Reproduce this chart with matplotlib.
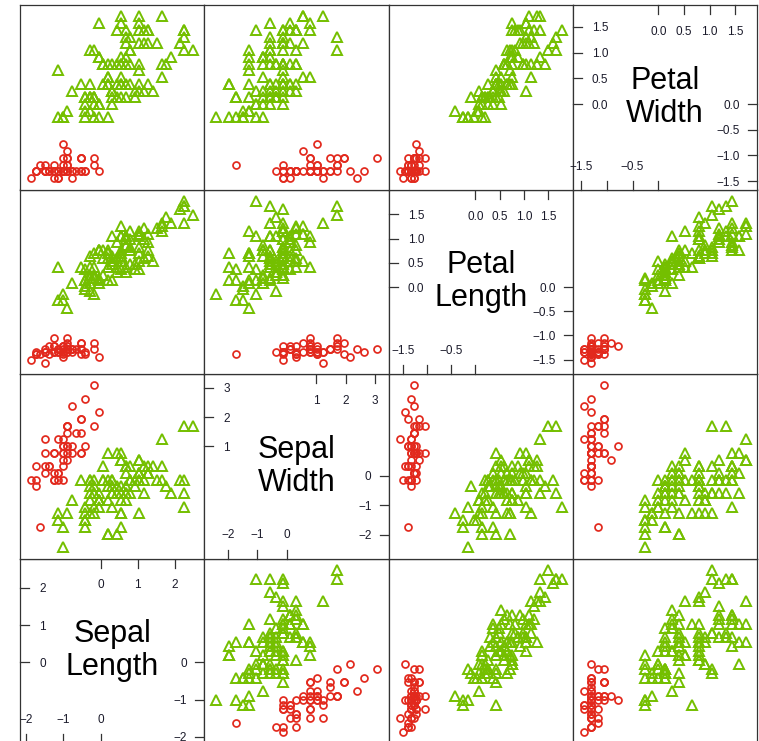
"""
Scatterplot matrix of the (standardised) iris measurements, setosa vs. the rest
"""
import math
import numpy as np
import matplotlib.pyplot as plt

plt.rcParams['font.family'] = ['Liberation Sans', 'DejaVu Sans']

# iris measurements, rows 1-50 setosa, 51-100 versicolor, 101-150 virginica
sepal_length = [
    5.1, 4.9, 4.7, 4.6, 5.0, 5.4, 4.6, 5.0, 4.4, 4.9, 5.4, 4.8, 4.8, 4.3, 5.8, 5.7, 5.4, 5.1, 5.7, 5.1,
    5.4, 5.1, 4.6, 5.1, 4.8, 5.0, 5.0, 5.2, 5.2, 4.7, 4.8, 5.4, 5.2, 5.5, 4.9, 5.0, 5.5, 4.9, 4.4, 5.1,
    5.0, 4.5, 4.4, 5.0, 5.1, 4.8, 5.1, 4.6, 5.3, 5.0,
    7.0, 6.4, 6.9, 5.5, 6.5, 5.7, 6.3, 4.9, 6.6, 5.2, 5.0, 5.9, 6.0, 6.1, 5.6, 6.7, 5.6, 5.8, 6.2, 5.6,
    5.9, 6.1, 6.3, 6.1, 6.4, 6.6, 6.8, 6.7, 6.0, 5.7, 5.5, 5.5, 5.8, 6.0, 5.4, 6.0, 6.7, 6.3, 5.6, 5.5,
    5.5, 6.1, 5.8, 5.0, 5.6, 5.7, 5.7, 6.2, 5.1, 5.7,
    6.3, 5.8, 7.1, 6.3, 6.5, 7.6, 4.9, 7.3, 6.7, 7.2, 6.5, 6.4, 6.8, 5.7, 5.8, 6.4, 6.5, 7.7, 7.7, 6.0,
    6.9, 5.6, 7.7, 6.3, 6.7, 7.2, 6.2, 6.1, 6.4, 7.2, 7.4, 7.9, 6.4, 6.3, 6.1, 7.7, 6.3, 6.4, 6.0, 6.9,
    6.7, 6.9, 5.8, 6.8, 6.7, 6.7, 6.3, 6.5, 6.2, 5.9]
sepal_width = [
    3.5, 3.0, 3.2, 3.1, 3.6, 3.9, 3.4, 3.4, 2.9, 3.1, 3.7, 3.4, 3.0, 3.0, 4.0, 4.4, 3.9, 3.5, 3.8, 3.8,
    3.4, 3.7, 3.6, 3.3, 3.4, 3.0, 3.4, 3.5, 3.4, 3.2, 3.1, 3.4, 4.1, 4.2, 3.1, 3.2, 3.5, 3.6, 3.0, 3.4,
    3.5, 2.3, 3.2, 3.5, 3.8, 3.0, 3.8, 3.2, 3.7, 3.3,
    3.2, 3.2, 3.1, 2.3, 2.8, 2.8, 3.3, 2.4, 2.9, 2.7, 2.0, 3.0, 2.2, 2.9, 2.9, 3.1, 3.0, 2.7, 2.2, 2.5,
    3.2, 2.8, 2.5, 2.8, 2.9, 3.0, 2.8, 3.0, 2.9, 2.6, 2.4, 2.4, 2.7, 2.7, 3.0, 3.4, 3.1, 2.3, 3.0, 2.5,
    2.6, 3.0, 2.6, 2.3, 2.7, 3.0, 2.9, 2.9, 2.5, 2.8,
    3.3, 2.7, 3.0, 2.9, 3.0, 3.0, 2.5, 2.9, 2.5, 3.6, 3.2, 2.7, 3.0, 2.5, 2.8, 3.2, 3.0, 3.8, 2.6, 2.2,
    3.2, 2.8, 2.8, 2.7, 3.3, 3.2, 2.8, 3.0, 2.8, 3.0, 2.8, 3.8, 2.8, 2.8, 2.6, 3.0, 3.4, 3.1, 3.0, 3.1,
    3.1, 3.1, 2.7, 3.2, 3.3, 3.0, 2.5, 3.0, 3.4, 3.0]
petal_length = [
    1.4, 1.4, 1.3, 1.5, 1.4, 1.7, 1.4, 1.5, 1.4, 1.5, 1.5, 1.6, 1.4, 1.1, 1.2, 1.5, 1.3, 1.4, 1.7, 1.5,
    1.7, 1.5, 1.0, 1.7, 1.9, 1.6, 1.6, 1.5, 1.4, 1.6, 1.6, 1.5, 1.5, 1.4, 1.5, 1.2, 1.3, 1.4, 1.3, 1.5,
    1.3, 1.3, 1.3, 1.6, 1.9, 1.4, 1.6, 1.4, 1.5, 1.4,
    4.7, 4.5, 4.9, 4.0, 4.6, 4.5, 4.7, 3.3, 4.6, 3.9, 3.5, 4.2, 4.0, 4.7, 3.6, 4.4, 4.5, 4.1, 4.5, 3.9,
    4.8, 4.0, 4.9, 4.7, 4.3, 4.4, 4.8, 5.0, 4.5, 3.5, 3.8, 3.7, 3.9, 5.1, 4.5, 4.5, 4.7, 4.4, 4.1, 4.0,
    4.4, 4.6, 4.0, 3.3, 4.2, 4.2, 4.2, 4.3, 3.0, 4.1,
    6.0, 5.1, 5.9, 5.6, 5.8, 6.6, 4.5, 6.3, 5.8, 6.1, 5.1, 5.3, 5.5, 5.0, 5.1, 5.3, 5.5, 6.7, 6.9, 5.0,
    5.7, 4.9, 6.7, 4.9, 5.7, 6.0, 4.8, 4.9, 5.6, 5.8, 6.1, 6.4, 5.6, 5.1, 5.6, 6.1, 5.6, 5.5, 4.8, 5.4,
    5.6, 5.1, 5.1, 5.9, 5.7, 5.2, 5.0, 5.2, 5.4, 5.1]
petal_width = [
    0.2, 0.2, 0.2, 0.2, 0.2, 0.4, 0.3, 0.2, 0.2, 0.1, 0.2, 0.2, 0.1, 0.1, 0.2, 0.4, 0.4, 0.3, 0.3, 0.3,
    0.2, 0.4, 0.2, 0.5, 0.2, 0.2, 0.4, 0.2, 0.2, 0.2, 0.2, 0.4, 0.1, 0.2, 0.2, 0.2, 0.2, 0.1, 0.2, 0.2,
    0.3, 0.3, 0.2, 0.6, 0.4, 0.3, 0.2, 0.2, 0.2, 0.2,
    1.4, 1.5, 1.5, 1.3, 1.5, 1.3, 1.6, 1.0, 1.3, 1.4, 1.0, 1.5, 1.0, 1.4, 1.3, 1.4, 1.5, 1.0, 1.5, 1.1,
    1.8, 1.3, 1.5, 1.2, 1.3, 1.4, 1.4, 1.7, 1.5, 1.0, 1.1, 1.0, 1.2, 1.6, 1.5, 1.6, 1.5, 1.3, 1.3, 1.3,
    1.2, 1.4, 1.2, 1.0, 1.3, 1.2, 1.3, 1.3, 1.1, 1.3,
    2.5, 1.9, 2.1, 1.8, 2.2, 2.1, 1.7, 1.8, 1.8, 2.5, 2.0, 1.9, 2.1, 2.0, 2.4, 2.3, 1.8, 2.2, 2.3, 1.5,
    2.3, 2.0, 2.0, 1.8, 2.1, 1.8, 1.8, 1.8, 2.1, 1.6, 1.9, 2.0, 2.2, 1.5, 1.4, 2.3, 2.4, 1.8, 1.8, 2.1,
    2.4, 2.3, 1.9, 2.3, 2.5, 2.3, 1.9, 2.0, 2.3, 1.8]
species = ['setosa'] * 50 + ['versicolor'] * 50 + ['virginica'] * 50

var_names = ['Sepal\nLength', 'Sepal\nWidth', 'Petal\nLength', 'Petal\nWidth']
var_ticks = [
    [-2, -1, 0, 1, 2],
    [-2, -1, 0, 1, 2, 3],
    [-1.5, -1.0, -0.5, 0.0, 0.5, 1.0, 1.5],
    [-1.5, -1.0, -0.5, 0.0, 0.5, 1.0, 1.5],
]
var_tick_labels = [
    ['\u22122', '\u22121', '0', '1', '2'],
    ['\u22122', '\u22121', '0', '1', '2', '3'],
    ['\u22121.5', '\u22121.0', '\u22120.5', '0.0', '0.5', '1.0', '1.5'],
    ['\u22121.5', '\u22121.0', '\u22120.5', '0.0', '0.5', '1.0', '1.5'],
]

red = '#e2291d'
green = '#74bf00'
frame = '#333333'

# standardise each variable
data = []
for v in [sepal_length, sepal_width, petal_length, petal_width]:
    a = np.array(v)
    data.append((a - a.mean()) / a.std(ddof=1))
setosa = np.array([s == 'setosa' for s in species])

# panel limits: data range + 7% each side
limits = []
for z in data:
    pad = 0.07 * (z.max() - z.min())
    limits.append((z.min() - pad, z.max() + pad))

W, H = 759, 741
fig = plt.figure(figsize=(W / 100, H / 100), dpi=100)
x0, y0 = 20, 5
pw, ph = 184.3, 184.5
px = 0.72  # points per pixel

bottom_labels = []
for r in range(4):          # y variable (0 = bottom row)
    for c in range(4):      # x variable
        row_top = 3 - r
        ax = fig.add_axes([(x0 + c * pw) / W, 1 - (y0 + (row_top + 1) * ph) / H, pw / W, ph / H])
        ax.set_xlim(limits[c])
        ax.set_ylim(limits[r])
        ax.set_xticks([])
        ax.set_yticks([])
        for sp in ax.spines.values():
            sp.set_color(frame)
            sp.set_linewidth(0.9)

        if r != c:
            ax.plot(data[c][setosa], data[r][setosa], 'o', mfc='none', mec=red,
                    ms=5.0, mew=1.25)
            ax.plot(data[c][~setosa], data[r][~setosa], '^', mfc='none', mec=green,
                    ms=6.5, mew=1.4)
            continue

        # diagonal panel: variable name and split axis
        ax.text(0.5, 0.5, var_names[c], transform=ax.transAxes, ha='center', va='center',
                fontsize=22, linespacing=1.15)
        ticks = var_ticks[c]
        labels = var_tick_labels[c]
        k = math.ceil(len(ticks) / 2)
        lo_t, lo_l = ticks[:k], labels[:k]
        hi_t, hi_l = ticks[-k:], labels[-k:]
        L = 9 / ph
        xt = ax.get_xaxis_transform()
        yt = ax.get_yaxis_transform()
        kw = dict(color=frame, lw=0.9, clip_on=False)
        tkw = dict(textcoords='offset points', fontsize=8.5, color='#1a1a2a')
        for t, lab in zip(hi_t, hi_l):
            ax.plot([t, t], [1 - L, 1], transform=xt, **kw)
            ax.annotate(lab, xy=(t, 1), xycoords=xt, xytext=(0, -27 * px),
                        ha='center', va='center', **tkw)
            ax.plot([0, L], [t, t], transform=yt, **kw)
            ax.annotate(lab, xy=(0, t), xycoords=yt, xytext=(19 * px, 0),
                        ha='left', va='center_baseline', **tkw)
        row = []
        for t, lab in zip(lo_t, lo_l):
            ax.plot([t, t], [0, L], transform=xt, **kw)
            row.append(ax.annotate(lab, xy=(t, 0), xycoords=xt, xytext=(0, 23 * px),
                                   ha='center', va='center', **tkw))
            ax.plot([1 - L, 1], [t, t], transform=yt, **kw)
            ax.annotate(lab, xy=(1, t), xycoords=yt, xytext=(-17 * px, 0),
                        ha='right', va='center_baseline', **tkw)
        bottom_labels.append(row)

# drop bottom labels that would overlap their neighbour
renderer = fig.canvas.get_renderer()
for row in bottom_labels:
    last = None
    for t in row:
        bb = t.get_window_extent(renderer)
        if last is not None and bb.x0 < last.x1 + 7:
            t.set_visible(False)
        else:
            last = bb

fig.savefig('out.png', dpi=100)
